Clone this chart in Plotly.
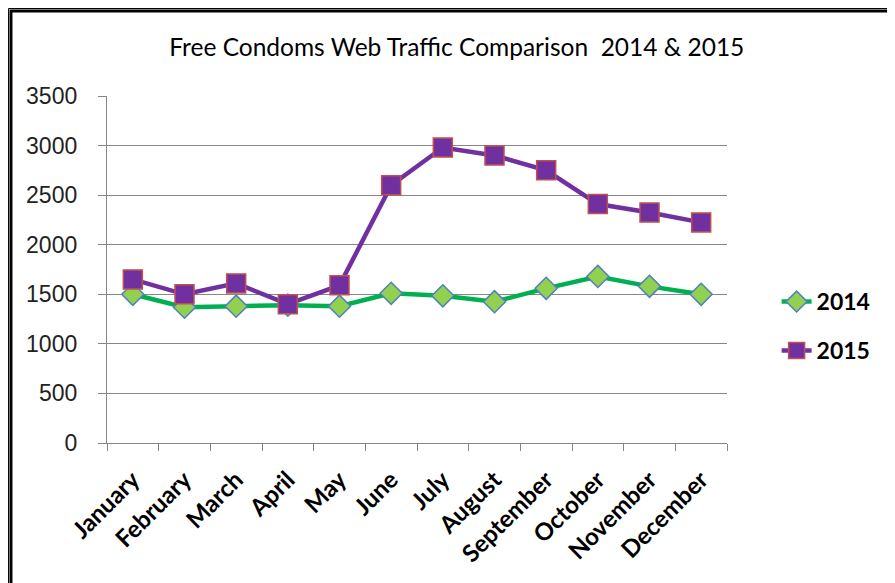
import plotly.graph_objects as go

months = ["January", "February", "March", "April", "May", "June",
          "July", "August", "September", "October", "November", "December"]
traffic_2014 = [1500, 1370, 1380, 1390, 1380, 1510, 1485, 1425, 1560, 1680, 1580, 1500]
traffic_2015 = [1650, 1500, 1610, 1400, 1590, 2600, 2980, 2900, 2750, 2410, 2325, 2225]
y_ticks = [0, 500, 1000, 1500, 2000, 2500, 3000, 3500]

fig = go.Figure()

fig.add_trace(go.Scatter(
    x=months, y=traffic_2014, name="2014", mode="lines+markers",
    legendgroup="a",
    line=dict(color="#00B050", width=4.5),
    marker=dict(symbol="diamond", size=17, color="#92D050",
                line=dict(color="#4F81BD", width=1.5)),
))

fig.add_trace(go.Scatter(
    x=months, y=traffic_2015, name="2015", mode="lines+markers",
    legendgroup="b",
    line=dict(color="#7030A0", width=4.5),
    marker=dict(symbol="square", size=19, color="#7030A0",
                line=dict(color="#C0504D", width=1.5)),
))

# page has an 8px body margin, so the figure is 8px smaller
fig.update_layout(
    width=887, height=575,
    margin=dict(l=99, r=168, t=88, b=140),
    paper_bgcolor="white", plot_bgcolor="white",
    title=dict(text="Free Condoms Web Traffic Comparison  2014 & 2015",
               x=0.506, xanchor="center", y=0.932, yanchor="middle",
               font=dict(family="Lato", size=24.5, color="black")),
    font=dict(family="Liberation Sans", color="#222"),
    legend=dict(x=1.08, y=0.337, xanchor="left", yanchor="middle",
                font=dict(family="Lato", size=23, color="black", weight="bold"),
                traceorder="grouped", tracegroupgap=16,
                bgcolor="rgba(0,0,0,0)"),
    showlegend=True,
)

fig.update_xaxes(
    type="category", range=[-0.5, 11.5], tickangle=-45,
    tickson="boundaries", ticks="outside", ticklen=7, tickcolor="#868686",
    showline=True, linecolor="#868686", linewidth=1.3,
    showgrid=False, ticklabelstandoff=12,
    tickfont=dict(family="Lato", size=24, color="black", weight="bold"),
)

fig.update_yaxes(
    range=[0, 3500], tickvals=y_ticks,
    ticks="outside", ticklen=8, tickcolor="#868686",
    showline=True, linecolor="#868686", linewidth=1.3,
    showgrid=True, gridcolor="#868686", gridwidth=1.2,
    zeroline=False, ticklabelstandoff=16,
    tickfont=dict(family="Liberation Sans", size=23, color="#222"),
)

# black double border around the chart area
fig.add_shape(type="rect", xref="paper", yref="paper",
              x0=-0.1589, y0=-0.6, x1=1.5, y1=1.2522,
              line=dict(color="black", width=1))
fig.add_shape(type="rect", xref="paper", yref="paper",
              x0=-0.1549, y0=-0.6, x1=1.5, y1=1.2450,
              line=dict(color="black", width=3))

fig.write_html("out.html")
